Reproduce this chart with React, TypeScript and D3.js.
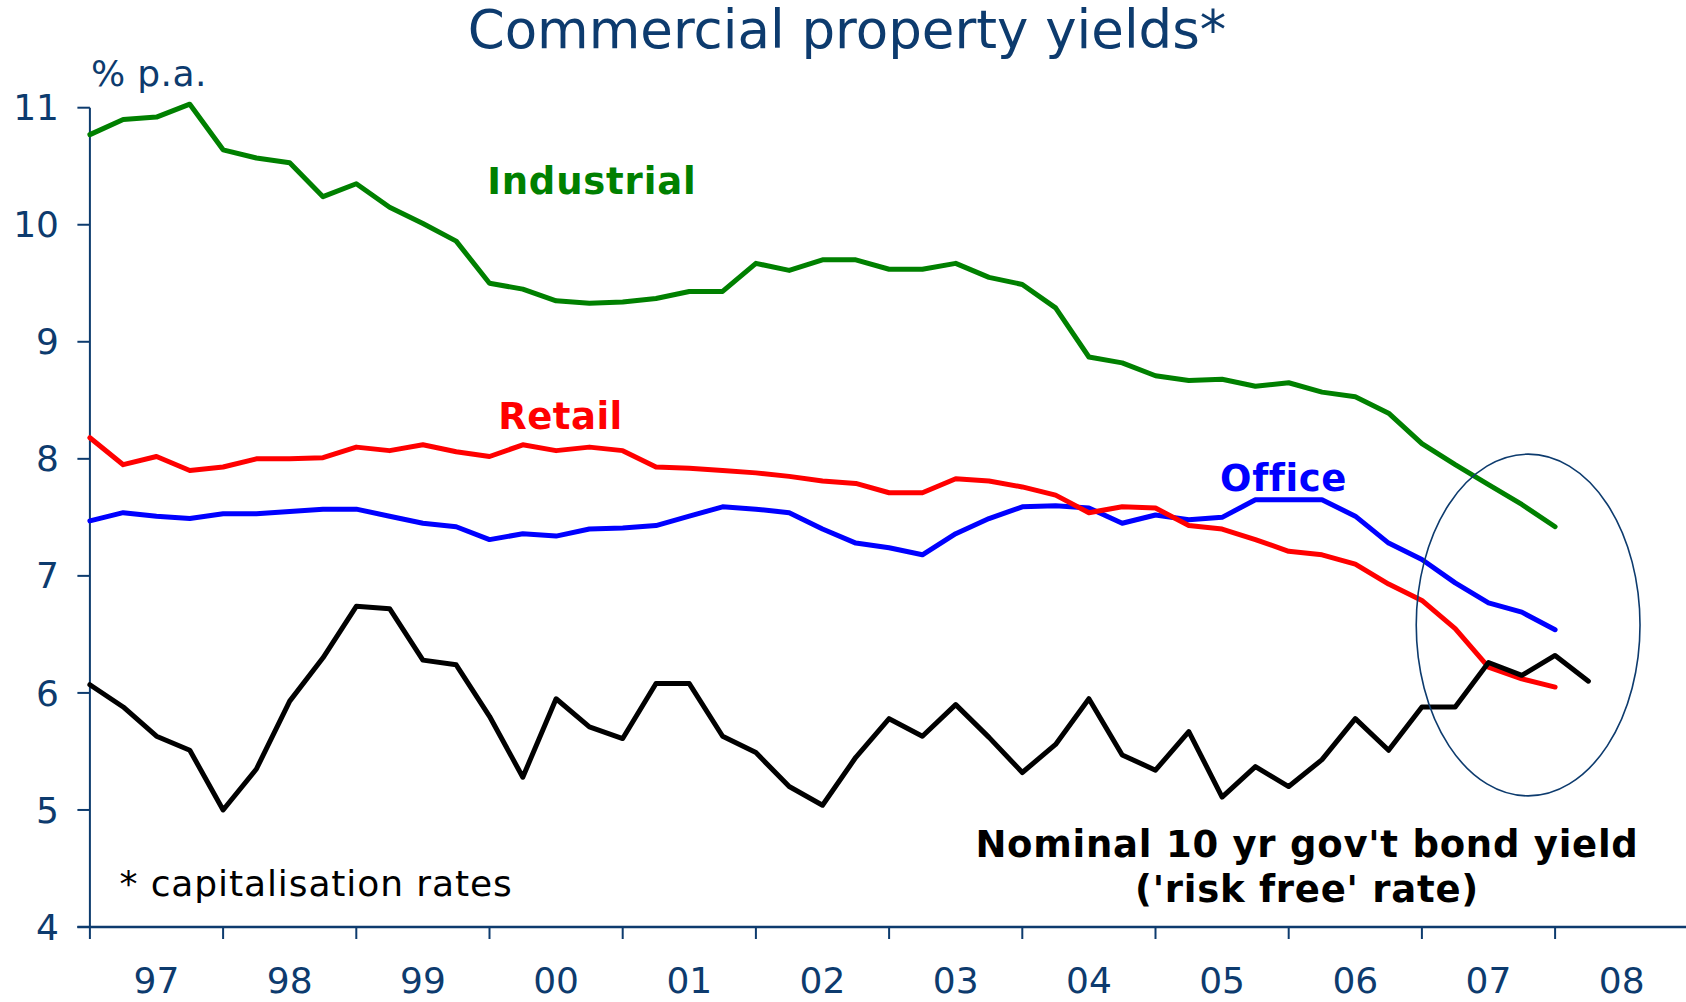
import React from "react";
import * as d3 from "d3";

const W = 1686;
const H = 1002;

const yearLabels = ["97", "98", "99", "00", "01", "02", "03", "04", "05", "06", "07", "08"];
const yTicks = [4, 5, 6, 7, 8, 9, 10, 11];

const industrial = [
  10.77, 10.9, 10.92, 11.03, 10.64, 10.57, 10.53, 10.24, 10.35, 10.15,
  10.01, 9.86, 9.5, 9.45, 9.35, 9.33, 9.34, 9.37, 9.43, 9.43,
  9.67, 9.61, 9.7, 9.7, 9.62, 9.62, 9.67, 9.55, 9.49, 9.29,
  8.87, 8.82, 8.71, 8.67, 8.68, 8.62, 8.65, 8.57, 8.53, 8.39,
  8.13, 7.95, 7.78, 7.61, 7.42,
];
const retail = [
  8.18, 7.95, 8.02, 7.9, 7.93, 8.0, 8.0, 8.01, 8.1, 8.07,
  8.12, 8.06, 8.02, 8.12, 8.07, 8.1, 8.07, 7.93, 7.92, 7.9,
  7.88, 7.85, 7.81, 7.79, 7.71, 7.71, 7.83, 7.81, 7.76, 7.69,
  7.54, 7.59, 7.58, 7.43, 7.4, 7.31, 7.21, 7.18, 7.1, 6.93,
  6.79, 6.55, 6.22, 6.12, 6.05,
];
const office = [
  7.47, 7.54, 7.51, 7.49, 7.53, 7.53, 7.55, 7.57, 7.57, 7.51,
  7.45, 7.42, 7.31, 7.36, 7.34, 7.4, 7.41, 7.43, 7.51, 7.59,
  7.57, 7.54, 7.4, 7.28, 7.24, 7.18, 7.36, 7.49, 7.59, 7.6,
  7.58, 7.45, 7.52, 7.48, 7.5, 7.65, 7.65, 7.65, 7.51, 7.28,
  7.14, 6.94, 6.77, 6.69, 6.54,
];
const bond = [
  6.07, 5.88, 5.63, 5.51, 5.0, 5.35, 5.93, 6.3, 6.74, 6.72,
  6.28, 6.24, 5.8, 5.28, 5.95, 5.71, 5.61, 6.08, 6.08, 5.63,
  5.49, 5.2, 5.04, 5.45, 5.78, 5.63, 5.9, 5.62, 5.32, 5.56,
  5.95, 5.47, 5.34, 5.67, 5.11, 5.37, 5.2, 5.43, 5.78, 5.51,
  5.88, 5.88, 6.26, 6.15, 6.32, 6.1,
];

const NAVY = "#0D3B6E";
const FONT = "'DejaVu Sans', Verdana, sans-serif";

export default function App() {
  const x = d3.scaleLinear().domain([0, 48]).range([89.9, 89.9 + 48 * 33.3]);
  const y = d3.scaleLinear().domain([4, 11]).range([927, 107.7]);

  const line = d3
    .line<number>()
    .x((_, i) => x(i))
    .y((d) => y(d));

  const series = [
    { data: industrial, color: "#008000" },
    { data: office, color: "#0000FF" },
    { data: retail, color: "#FF0000" },
    { data: bond, color: "#000000" },
  ];

  const xTickIdx = d3.range(0, 48, 4);

  // ellipse annotation in data units
  const ell = { cx: 43.19, cy: 6.58, rx: 3.36, ry: 1.46 };

  return (
    <svg
      width={W}
      height={H}
      style={{ position: "absolute", left: 0, top: 0, background: "#fff" }}
      fontFamily={FONT}
    >
      <rect width={W} height={H} fill="#fff" />
      <text x={847} y={48} textAnchor="middle" fontSize={53} fill={NAVY}>
        Commercial property yields*
      </text>
      <text x={x(0.03)} y={y(11.186)} fontSize={36} fill={NAVY} letterSpacing={0.4}>
        % p.a.
      </text>

      {/* y axis */}
      <line x1={x(0)} x2={x(0)} y1={y(4)} y2={y(11)} stroke={NAVY} strokeWidth={2} />
      {yTicks.map((t) => (
        <g key={t}>
          <line x1={x(0) - 12.5} x2={x(0)} y1={y(t)} y2={y(t)} stroke={NAVY} strokeWidth={2} />
          <text x={59} y={y(t)} dy="0.35em" textAnchor="end" fontSize={36} fill={NAVY}>
            {t}
          </text>
        </g>
      ))}

      {/* x axis */}
      <line x1={x(0) - 12.5} x2={W} y1={y(4)} y2={y(4)} stroke={NAVY} strokeWidth={2.5} />
      {xTickIdx.map((i) => (
        <line key={i} x1={x(i)} x2={x(i)} y1={y(4)} y2={y(4) + 12} stroke={NAVY} strokeWidth={2} />
      ))}
      {yearLabels.map((lab, j) => (
        <text key={lab} x={x(2 + 4 * j)} y={993} textAnchor="middle" fontSize={36} fill={NAVY}>
          {lab}
        </text>
      ))}

      {/* series */}
      {series.map((s, k) => (
        <path
          key={k}
          d={line(s.data) || ""}
          fill="none"
          stroke={s.color}
          strokeWidth={5}
          strokeLinejoin="round"
          strokeLinecap="round"
        />
      ))}

      {/* ellipse */}
      <ellipse
        cx={x(ell.cx)}
        cy={y(ell.cy)}
        rx={x(ell.rx) - x(0)}
        ry={y(0) - y(ell.ry)}
        fill="none"
        stroke={NAVY}
        strokeWidth={1.6}
      />

      {/* labels */}
      <text x={x(11.93)} y={y(10.263)} fontSize={37} fontWeight="bold" fill="#008000" letterSpacing={0.8}>
        Industrial
      </text>
      <text x={x(12.26)} y={y(8.252)} fontSize={37} fontWeight="bold" fill="#FF0000" letterSpacing={0.5}>
        Retail
      </text>
      <text x={x(33.94)} y={y(7.725)} fontSize={37} fontWeight="bold" fill="#0000FF" letterSpacing={0.6}>
        Office
      </text>
      <text x={x(36.55)} y={y(4.601)} textAnchor="middle" fontSize={37} fontWeight="bold" fill="#000" letterSpacing={0.75}>
        Nominal 10 yr gov't bond yield
      </text>
      <text x={x(36.55)} y={y(4.216)} textAnchor="middle" fontSize={37} fontWeight="bold" fill="#000" letterSpacing={0.75}>
        ('risk free' rate)
      </text>
      <text x={x(0.886)} y={y(4.265)} fontSize={36} fill="#000" letterSpacing={0.9}>
        * capitalisation rates
      </text>
    </svg>
  );
}
